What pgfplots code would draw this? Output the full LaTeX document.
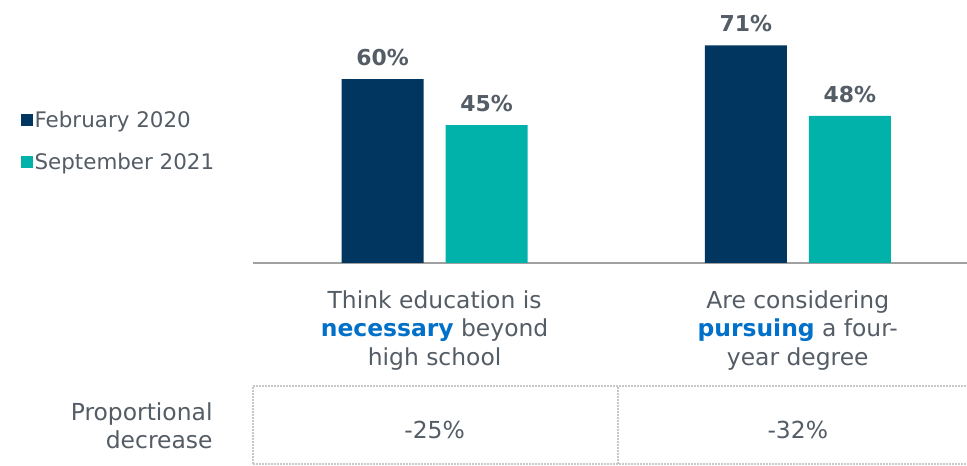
\documentclass[border=0pt]{standalone}
\usepackage{fontspec}
\setmainfont{DejaVu Sans}
\usepackage{pgfplots}
\pgfplotsset{compat=1.18}
\definecolor{navy}{RGB}{0,54,96}
\definecolor{teal2}{RGB}{0,178,170}
\definecolor{txt}{RGB}{84,92,102}
\definecolor{hl}{RGB}{0,112,200}
\definecolor{axisgray}{RGB}{160,160,160}
\definecolor{dotgray}{RGB}{200,200,200}

\begin{document}
\begin{tikzpicture}
\begin{axis}[
  at={(253bp,203bp)}, anchor=south west,
  scale only axis, width=714bp, height=263bp,
  xmin=-0.5, xmax=1.466, ymin=0, ymax=85.8,
  ybar=22bp, bar width=82bp,
  axis x line*=bottom, axis y line=none,
  x axis line style={draw=axisgray, line width=1.5bp, -},
  xtick={0,1}, xtick style={draw=none},
  xticklabels={{Think education is\\\textcolor{hl}{\bfseries necessary} beyond\\high school},
               {Are considering\\\textcolor{hl}{\bfseries pursuing} a four-\\year degree}},
  xticklabel style={align=center, font=\fontsize{23.5}{28.5}\selectfont, text=txt, yshift=-20bp},
  nodes near coords={\pgfmathprintnumber[assume math mode=true]{\pgfplotspointmeta}\%},
  nodes near coords style={font=\fontsize{22}{26}\selectfont\bfseries, text=txt, yshift=10bp},
  clip=false,
  legend style={at={(axis description cs:-0.33,0.464)}, anchor=west, draw=none, fill=none,
                font=\fontsize{21.5}{25}\selectfont, text=txt, row sep=20bp},
  legend cell align=left,
  legend image code/.code={\fill[#1] (0bp,-6bp) rectangle (12bp,6bp);},
]
\addplot[fill=navy, draw=none] coordinates {(0,60) (1,71)};
\addplot[fill=teal2, draw=none] coordinates {(0,45) (1,48)};
\legend{February 2020, September 2021}
% proportional decrease row
\node[font=\fontsize{23.5}{28}\selectfont, text=txt] at (axis cs:0,-54.5) {-25\%};
\node[font=\fontsize{23.5}{28}\selectfont, text=txt] at (axis cs:1,-54.5) {-32\%};
\end{axis}
\begin{scope}[dotgray, line width=1.5bp, dash pattern=on 1.5bp off 1.5bp]
  \draw (253bp,80bp) -- (967bp,80bp);
  \draw (253bp,2bp) -- (967bp,2bp);
  \draw (253bp,2bp) -- (253bp,80bp);
  \draw (618bp,2bp) -- (618bp,80bp);
\end{scope}
\node[anchor=east, align=right, font=\fontsize{23.5}{28}\selectfont, text=txt] at (216bp,40bp) {Proportional\\decrease};
\pgfresetboundingbox
\path[use as bounding box] (0,0) rectangle (967bp,466bp);
\end{tikzpicture}
\end{document}
